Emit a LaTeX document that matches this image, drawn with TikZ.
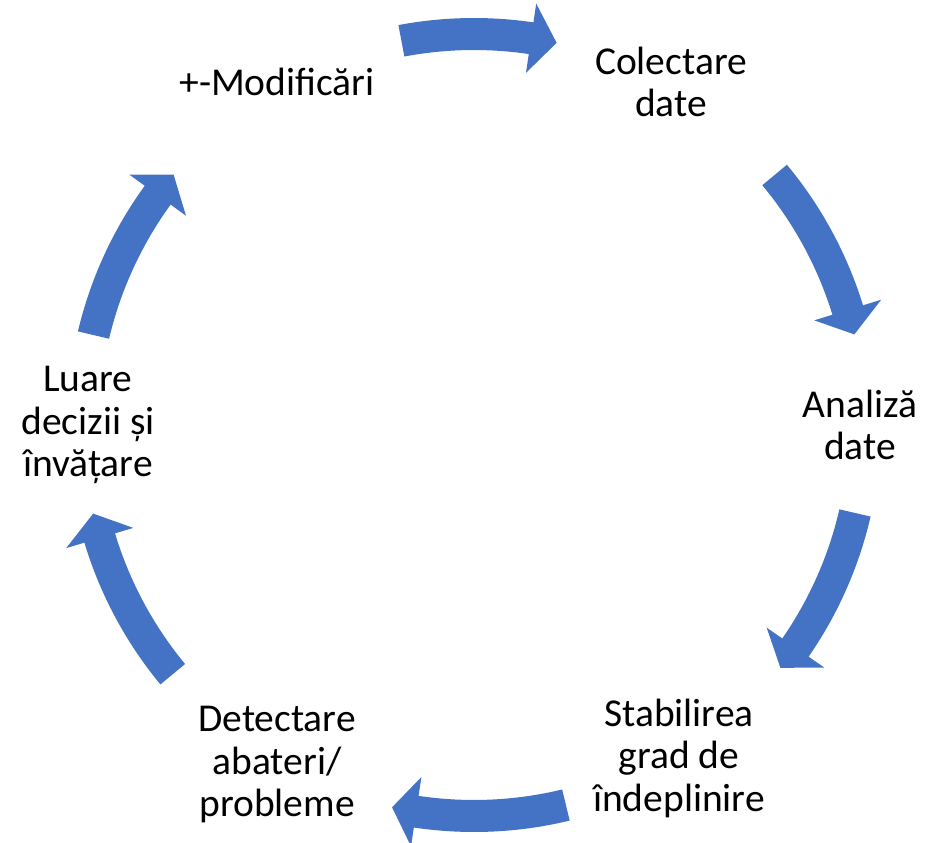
\documentclass[tikz,border=0pt]{standalone}
\usepackage{fontspec}
\setmainfont{Carlito}
\definecolor{arrowblue}{HTML}{4472C4}
\newcommand{\cyclearrow}[3]{%
  \fill[arrowblue] (#1:407pt) arc[start angle=#1, end angle=#2, radius=407pt]
    -- (#2:426pt) -- (#3:391pt) -- (#2:356pt) -- (#2:375pt)
    arc[start angle=#2, end angle=#1, radius=375pt] -- cycle;}
\tikzset{lbl/.style={align=center, font=\fontsize{39.5}{42.5}\selectfont, inner sep=0pt, text=black}}
\begin{document}
\begin{tikzpicture}[x=1pt,y=1pt]
\useasboundingbox (0,0) rectangle (935,-843);
\fill[white] (0,0) rectangle (935,-843);
\begin{scope}[shift={(474,-425)}]
  \cyclearrow{100.7}{81.6}{77.8}
  \cyclearrow{39.75}{17.1}{13.4}
  \cyclearrow{-13}{-34.7}{-38.4}
  \cyclearrow{-76.4}{-98.5}{-102.1}
  \cyclearrow{219.6}{196.8}{193.1}
  \cyclearrow{166.7}{144}{140.2}
\end{scope}
\node[lbl] (mod) at (277,-82) {+-Modificări};
\node[lbl] (col) at (671,-82) {Colectare\\date};
\node[lbl] (ana) at (860,-425) {Analiză\\date};
\node[lbl] (sta) at (679,-758) {Stabilirea\\grad de\\îndeplinire};
\node[lbl] (det) at (277,-765) {Detectare\\abateri/\\probleme};
\node[lbl] (lua) at (88,-425) {Luare\\decizii și\\învățare};
\end{tikzpicture}
\end{document}
